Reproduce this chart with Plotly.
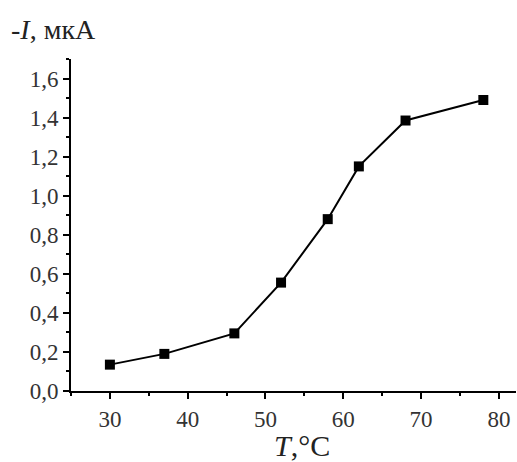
import plotly.graph_objects as go

T = [30, 37, 46, 52, 58, 62, 68, 78]
I = [0.135, 0.19, 0.295, 0.555, 0.88, 1.15, 1.385, 1.49]

x_ticks = [30, 40, 50, 60, 70, 80]
y_ticks = [0.0, 0.2, 0.4, 0.6, 0.8, 1.0, 1.2, 1.4, 1.6]

font_family = "Liberation Serif, Times New Roman, serif"

fig = go.Figure(go.Scatter(
    x=T, y=I, mode="lines+markers",
    line=dict(color="black", width=2),
    marker=dict(symbol="square", size=10, color="black"),
))

fig.update_layout(
    width=517, height=462,
    margin=dict(l=71, r=1, t=59, b=71, autoexpand=False),
    paper_bgcolor="white", plot_bgcolor="white",
    showlegend=False,
    separators=",.",
    font=dict(family=font_family, color="#333333", size=23),
    annotations=[
        dict(text="-<i>I</i>, мкА", xref="paper", yref="paper", x=0, y=1,
             xshift=-62, yshift=12, xanchor="left", yanchor="bottom",
             showarrow=False, font=dict(size=28, color="#222222", family=font_family)),
        dict(text="<i>T</i>,°C", xref="paper", yref="paper", x=0.5, y=0,
             xshift=8, yshift=-36, xanchor="center", yanchor="top",
             showarrow=False, font=dict(size=30, color="#222222", family=font_family)),
    ],
)

fig.update_xaxes(
    range=[25, 82.2], tickvals=x_ticks, showgrid=False, zeroline=False,
    showline=True, linecolor="black", linewidth=2,
    ticks="outside", ticklen=6, tickwidth=2, tickcolor="black",
    minor=dict(dtick=5, tick0=25, ticks="outside", ticklen=3, tickwidth=2, tickcolor="black"),
)
fig.update_yaxes(
    range=[0, 1.7], tickvals=y_ticks, tickformat=".1f", showgrid=False, zeroline=False,
    showline=True, linecolor="black", linewidth=2,
    ticks="outside", ticklen=6, tickwidth=2, tickcolor="black",
    minor=dict(dtick=0.1, tick0=0, ticks="outside", ticklen=3, tickwidth=2, tickcolor="black"),
)

fig.write_html("out.html", config={"displayModeBar": False},
               post_script="document.body.style.margin='0';")
